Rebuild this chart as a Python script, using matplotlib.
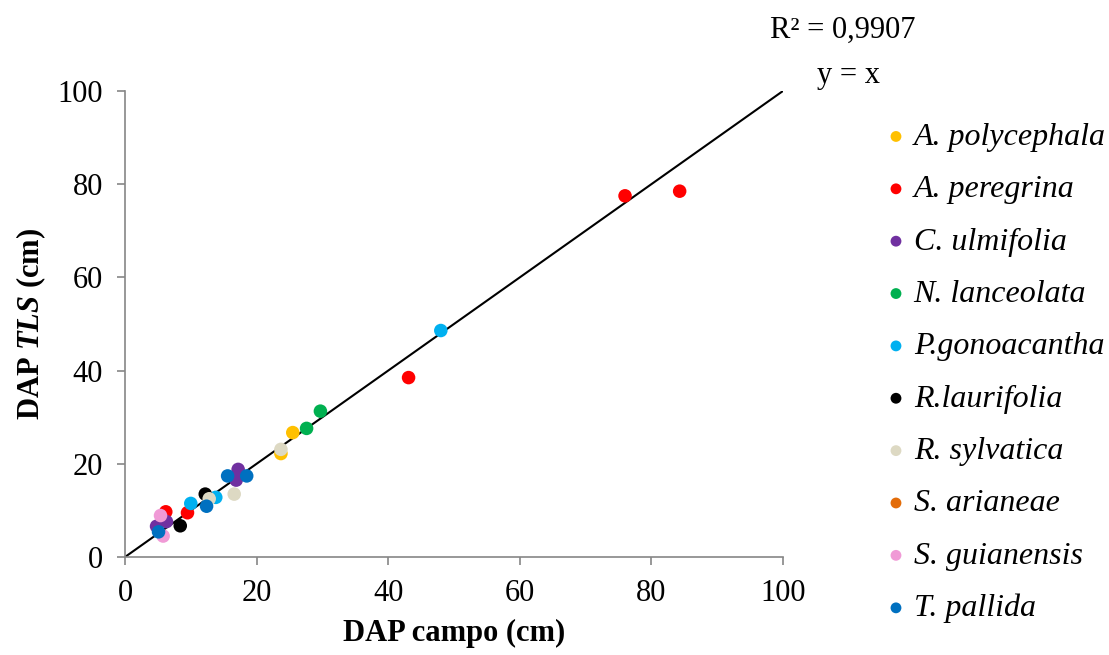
import matplotlib
matplotlib.use("Agg")
import matplotlib.pyplot as plt

plt.rcParams['font.family'] = ['Liberation Serif', 'DejaVu Serif']
plt.rcParams['mathtext.fontset'] = 'custom'
plt.rcParams['mathtext.rm'] = 'Liberation Serif'
plt.rcParams['mathtext.bf'] = 'Liberation Serif:bold'
plt.rcParams['mathtext.bfit'] = 'Liberation Serif:bold:italic'

# species and their points (DAP campo, DAP TLS)
species = ["A. polycephala", "A. peregrina", "C. ulmifolia", "N. lanceolata",
           "P.gonoacantha", "R.laurifolia", "R. sylvatica", "S. arianeae",
           "S. guianensis", "T. pallida"]
colors = ["#FFC000", "#FF0000", "#7030A0", "#00B050", "#00B0F0",
          "#000000", "#DDD9C3", "#E36C09", "#F09AD6", "#0070C0"]

x_poly = [23.7, 25.5]
y_poly = [22.2, 26.7]
x_pere = [6.2, 9.5, 43.1, 76.0, 84.3]
y_pere = [9.7, 9.5, 38.5, 77.5, 78.5]
x_ulmi = [4.8, 6.3, 17.2, 16.9]
y_ulmi = [6.6, 7.6, 18.8, 16.5]
x_lanc = [27.6, 29.7]
y_lanc = [27.6, 31.3]
x_gono = [10.0, 13.8, 48.0]
y_gono = [11.5, 12.8, 48.6]
x_laur = [8.4, 12.2]
y_laur = [6.7, 13.5]
x_sylv = [12.8, 16.6, 23.7]
y_sylv = [12.5, 13.5, 23.1]
x_aria = []
y_aria = []
x_guia = [5.4, 5.8]
y_guia = [8.9, 4.5]
x_pall = [5.1, 12.4, 15.6, 18.5]
y_pall = [5.4, 10.9, 17.4, 17.4]

xs = [x_poly, x_pere, x_ulmi, x_lanc, x_gono, x_laur, x_sylv, x_aria, x_guia, x_pall]
ys = [y_poly, y_pere, y_ulmi, y_lanc, y_gono, y_laur, y_sylv, y_aria, y_guia, y_pall]

fig = plt.figure(figsize=(11.09, 6.55), dpi=100)
ax = fig.add_axes([0.1127, 0.1496, 0.5933, 0.7115])

ax.plot([0, 100], [0, 100], color='black', lw=1.5, zorder=1)
for name, c, xv, yv in zip(species, colors, xs, ys):
    ax.scatter(xv, yv, s=95, color=c, edgecolors='none', label=name, zorder=2)

ax.set_xlim(0, 100)
ax.set_ylim(0, 100)
ax.set_xticks(range(0, 101, 20))
ax.set_yticks(range(0, 101, 20))
for s in ['top', 'right']:
    ax.spines[s].set_visible(False)
for s in ['left', 'bottom']:
    ax.spines[s].set_color('#868686')
    ax.spines[s].set_linewidth(1.2)
ax.tick_params(colors='#868686', labelcolor='black', labelsize=22, length=6, width=1.2, pad=10)
ax.set_xlabel("DAP campo (cm)", fontsize=22, fontweight='bold', labelpad=8)
ax.set_ylabel(r"DAP $\mathbfit{TLS}$ (cm)", fontsize=22, fontweight='bold', labelpad=7)

fig.text(0.760, 0.954, "R² = 0,9907", fontsize=22, ha='center', va='center')
fig.text(0.765, 0.885, "y = x", fontsize=22, ha='center', va='center')

leg = fig.legend(loc='upper left', bbox_to_anchor=(0.800, 0.813), frameon=False,
                 prop={'style': 'italic', 'size': 23}, handlelength=0.55, handletextpad=0.28,
                 labelspacing=0.72, markerscale=0.8, borderaxespad=0, borderpad=0)

fig.savefig("out.png", dpi=100)
